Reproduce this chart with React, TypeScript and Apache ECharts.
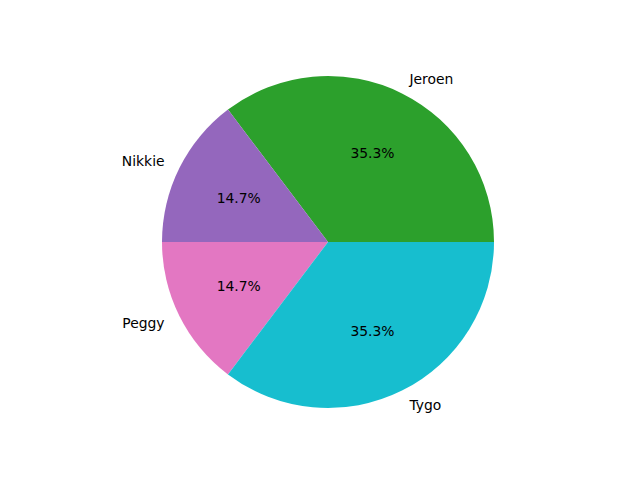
import React, { useEffect, useRef } from "react";
import * as echarts from "echarts";

const categories = ["Jeroen", "Nikkie", "Peggy", "Tygo"];
const values = [12, 5, 5, 12];
const colors = ["#2ca02c", "#9467bd", "#e377c2", "#17becf"];

export default function App() {
  const ref = useRef<HTMLDivElement>(null);
  useEffect(() => {
    if (!ref.current) return;
    const chart = echarts.init(ref.current, undefined, { renderer: "svg" });
    const R = 166;
    const data = categories.map((name, i) => ({
      name,
      value: values[i],
      itemStyle: { color: colors[i] },
    }));
    const font = { fontFamily: "DejaVu Sans", fontSize: 13.9, color: "#000" };
    chart.setOption({
      animation: false,
      backgroundColor: "#ffffff",
      series: [
        {
          type: "pie",
          center: [328, 242],
          radius: [0, R],
          startAngle: 0,
          clockwise: false,
          avoidLabelOverlap: false,
          silent: true,
          itemStyle: { borderWidth: 0 },
          label: {
            show: true,
            position: "outside",
            formatter: "{b}",
            distanceToLabelLine: 0,
            ...font,
          },
          labelLine: { show: false, length: R * 0.1, length2: 0 },
          data,
        },
        {
          type: "pie",
          center: [328, 242],
          radius: [0, R * 1.165],
          startAngle: 0,
          clockwise: false,
          avoidLabelOverlap: false,
          silent: true,
          percentPrecision: 1,
          itemStyle: { color: "transparent", borderWidth: 0 },
          label: {
            show: true,
            position: "inside",
            formatter: "{d}%",
            ...font,
          },
          labelLine: { show: false },
          data: categories.map((name, i) => ({
            name,
            value: values[i],
            itemStyle: { color: "transparent" },
          })),
        },
      ],
    });
    return () => chart.dispose();
  }, []);
  return (
    <div
      ref={ref}
      style={{ position: "fixed", left: 0, top: 0, width: 640, height: 480 }}
    />
  );
}
